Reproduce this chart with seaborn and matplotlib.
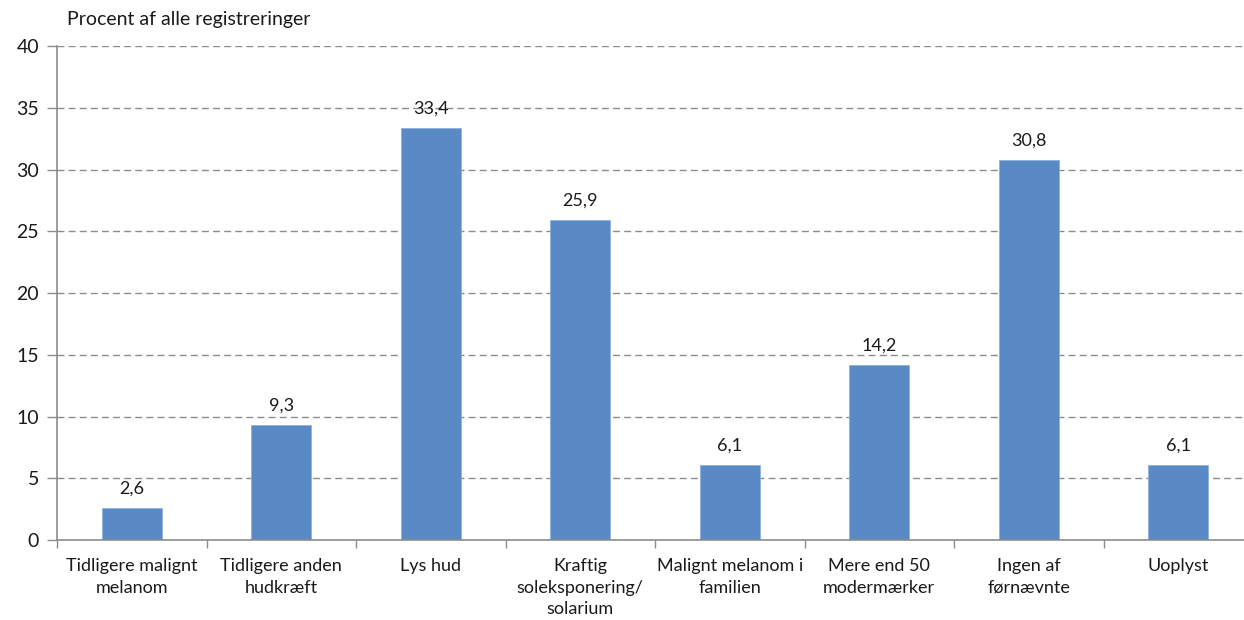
import matplotlib
matplotlib.use("Agg")
import matplotlib.pyplot as plt
import seaborn as sns
import pandas as pd
import numpy as np

categories = [
    "Tidligere malignt\nmelanom",
    "Tidligere anden\nhudkræft",
    "Lys hud",
    "Kraftig\nsoleksponering/\nsolarium",
    "Malignt melanom i\nfamilien",
    "Mere end 50\nmodermærker",
    "Ingen af\nførnævnte",
    "Uoplyst",
]
values = [2.6, 9.3, 33.4, 25.9, 6.1, 14.2, 30.8, 6.1]
y_ticks = [0, 5, 10, 15, 20, 25, 30, 35, 40]
y_title = "Procent af alle registreringer"

sns.set_theme(style="white")
plt.rcParams["font.family"] = ["Lato", "DejaVu Sans"]

df = pd.DataFrame({"kategori": categories, "procent": values})

fig = plt.figure(figsize=(12.44, 6.2), dpi=100)
# plot area runs slightly past the right edge of the canvas
ax = fig.add_axes([57 / 1244, 0.129, 1196 / 1244, 0.7968])

sns.barplot(data=df, x="kategori", y="procent", color="#5A8AC6",
            width=0.4, saturation=1, edgecolor="#8DB0DC", linewidth=0.6, ax=ax)

ax.set_xlim(-0.5, len(categories) - 0.5)
ax.set_ylim(0, 40)
ax.set_yticks(y_ticks)
ax.set_yticklabels([str(t) for t in y_ticks], fontsize=14, color="#1a1a1a")
ax.set_xlabel("")
ax.set_ylabel("")

# dashed grid
ax.yaxis.grid(True, linestyle=(0, (5, 3)), color="#8c8c8c", linewidth=1)
ax.set_axisbelow(True)

for s in ["top", "right"]:
    ax.spines[s].set_visible(False)
for s in ["left", "bottom"]:
    ax.spines[s].set_color("#8c8c8c")
    ax.spines[s].set_linewidth(1.2)

ax.tick_params(axis="y", which="major", length=7, width=1, color="#8c8c8c",
               direction="out", left=True, pad=6)
# category labels centred, tick marks at category boundaries
ax.set_xticks(range(len(categories)))
ax.set_xticklabels(categories, fontsize=13, color="#1a1a1a", linespacing=1.42)
ax.tick_params(axis="x", which="major", length=0, pad=13)
ax.set_xticks(np.arange(-0.5, len(categories), 1.0), minor=True)
ax.tick_params(axis="x", which="minor", length=6, width=1, color="#8c8c8c",
               direction="out", bottom=True)
for lbl in ax.get_xticklabels():
    lbl.set_verticalalignment("top")

# value labels above bars
for i, v in enumerate(values):
    ax.annotate(f"{v:.1f}".replace(".", ","), (i, v), xytext=(0, 8),
                textcoords="offset points", ha="center", va="bottom",
                fontsize=13, color="#1a1a1a")

fig.text(67 / 1244, 1 - 20 / 620, y_title, fontsize=14, color="#1a1a1a",
         ha="left", va="center")

fig.savefig("out.png", dpi=100, facecolor="white")
